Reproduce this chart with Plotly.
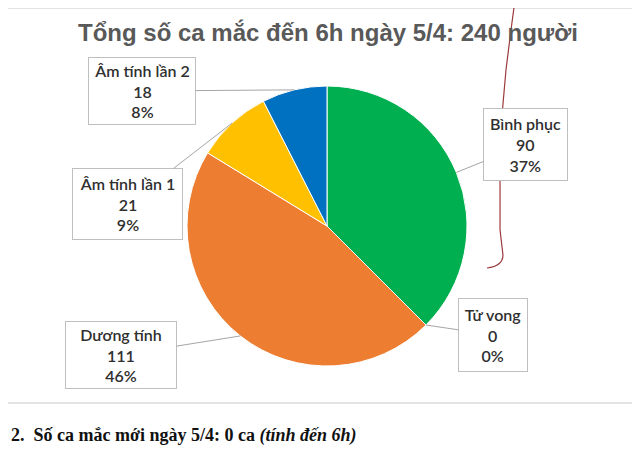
import math
import plotly.graph_objects as go

# ---- data ----
labels = ["Bình phục", "Tử vong", "Dương tính", "Âm tính lần 1", "Âm tính lần 2"]
values = [90, 0, 111, 21, 18]
pct_labels = ["37%", "0%", "46%", "9%", "8%"]
colors = ["#00B050", "#ED7D31", "#ED7D31", "#FFC000", "#0070C0"]
title_text = "Tổng số ca mắc đến 6h ngày 5/4: 240 người"
footer_text = "2.  Số ca mắc mới ngày 5/4: 0 ca <i>(tính đến 6h)</i>"

W, H = 640, 451
OFF = 8  # page body margin compensation
CX, CY, R = 327 - OFF, 226 - OFF, 140  # pie centre / radius in pixels (layout)

# callout boxes: centre x, centre y, width, height (pixels, layout)
boxes = [
    (525.5, 144.5, 85, 73),
    (493, 335, 70, 74),
    (121, 355, 112, 68),
    (127.5, 204, 111, 72),
    (142, 91, 108, 68),
]


def px2paper(x, y):
    return (x - OFF) / W, 1 - (y - OFF) / H


fig = go.Figure()
fig.add_trace(go.Pie(
    labels=labels, values=values, sort=False, direction="clockwise", rotation=0,
    marker=dict(colors=colors, line=dict(color="white", width=1)),
    textinfo="none", hoverinfo="label+value+percent", showlegend=False,
    domain=dict(x=[(CX - R) / W, (CX + R) / W], y=[1 - (CY + R) / H, 1 - (CY - R) / H]),
))

total = sum(values)
cum = 0.0
annotations = []
for lab, v, p, box in zip(labels, values, pct_labels, boxes):
    mid = (cum + v / 2) / total * 2 * math.pi
    cum += v
    px = CX + OFF + R * math.sin(mid)
    py = CY + OFF - R * math.cos(mid)
    bx, by, bw, bh = box
    x, y = px2paper(px, py)
    annotations.append(dict(
        x=x, y=y, xref="paper", yref="paper",
        ax=bx - px, ay=by - py,
        text=f"{lab}<br>{v}<br>{p}",
        showarrow=True, arrowhead=0, arrowwidth=1, arrowcolor="#A6A6A6",
        bordercolor="#BFBFBF", borderwidth=1, borderpad=0, bgcolor="white",
        width=bw - 2, height=bh - 2, align="center", valign="middle",
        font=dict(family="Lato, Liberation Sans, sans-serif", size=16,
                  color="#2F2F2F", weight=600),
    ))

tx, ty = px2paper(328, 33)
annotations.append(dict(
    x=tx, y=ty, xref="paper", yref="paper", showarrow=False,
    text=f"<b>{title_text}</b>", xanchor="center", yanchor="middle",
    font=dict(family="Liberation Sans, Arial, sans-serif", size=24, color="#595959"),
))
fx, fy = px2paper(9, 435)
annotations.append(dict(
    x=fx, y=fy, xref="paper", yref="paper", showarrow=False,
    text=f"<b>{footer_text}</b>", xanchor="left", yanchor="middle",
    font=dict(family="Liberation Serif, Times New Roman, serif", size=18, color="#111111"),
))

y8 = px2paper(0, 8)[1]
y403 = px2paper(0, 403)[1]
shapes = [
    dict(type="line", xref="paper", yref="paper", x0=0, x1=1, y0=y8, y1=y8,
         line=dict(color="#E3E3E3", width=2)),
    dict(type="line", xref="paper", yref="paper", x0=0, x1=1, y0=y403, y1=y403,
         line=dict(color="#E3E3E3", width=2)),
]
# hand-drawn red pen stroke (decoration)
pen = [(515, 0), (511, 30), (506, 70), (502, 115), (500, 170), (500, 230), (503, 255)]
pts = [px2paper(x, y) for x, y in pen]
path = "M " + " L ".join(f"{x:.4f},{y:.4f}" for x, y in pts)
q1 = px2paper(503, 266)
q2 = px2paper(487, 268)
path += f" Q {q1[0]:.4f},{q1[1]:.4f} {q2[0]:.4f},{q2[1]:.4f}"
shapes.append(dict(type="path", xref="paper", yref="paper", path=path,
                   line=dict(color="#9B3A3A", width=1.2)))

fig.update_layout(
    width=W, height=H, margin=dict(l=0, r=0, t=0, b=0),
    paper_bgcolor="white", plot_bgcolor="white",
    annotations=annotations, shapes=shapes,
)
fig.write_html("out.html")
